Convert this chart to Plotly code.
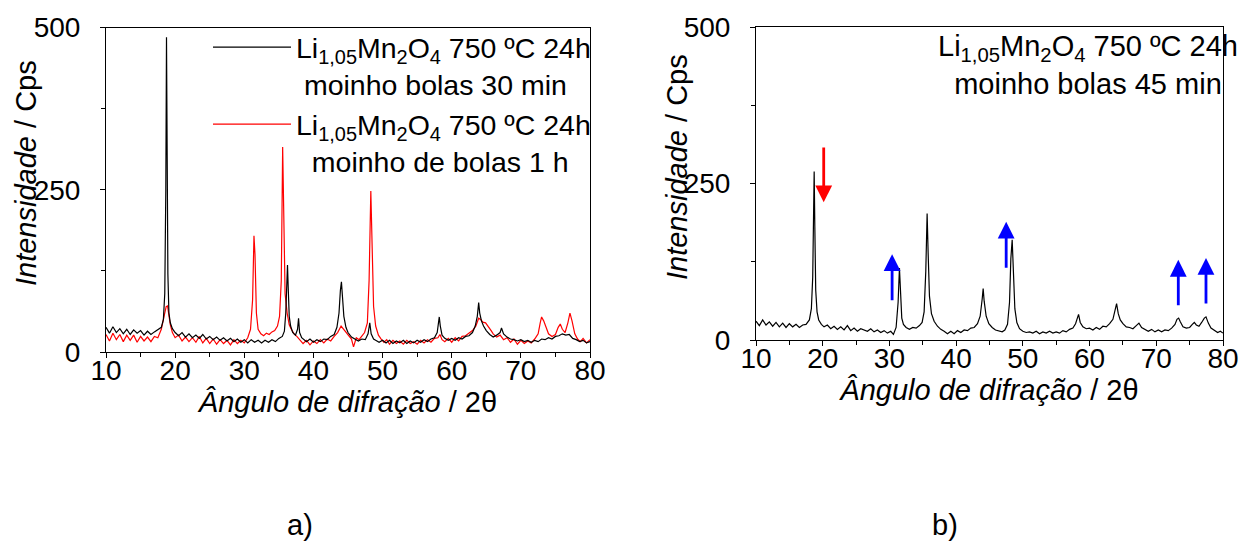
import plotly.graph_objects as go

# ---------------- data ----------------
# a) Li1,05Mn2O4 750 ºC 24h, moinho bolas 30 min (black)
x_30min = [10, 10.5, 11, 11.5, 12, 12.5, 13, 13.5, 14, 14.5, 15, 15.5, 16, 16.5, 17, 17.5, 18, 18.3, 18.5, 18.65,
           18.75, 18.85, 18.95, 19.1, 19.3, 19.6, 20, 20.5, 21, 21.5, 22, 22.5, 23, 23.5, 24, 24.5, 25, 25.5, 26,
           26.5, 27, 27.5, 28, 28.5, 29, 29.5, 30, 30.5, 31, 31.5, 32, 32.5, 33, 33.5, 34, 34.5, 35, 35.5, 35.8,
           36.0, 36.15, 36.25, 36.35, 36.5, 36.7, 37.0, 37.4, 37.7, 37.85, 38.0, 38.3, 38.7, 39, 39.5, 40, 40.5,
           41, 41.5, 42, 42.5, 43, 43.4, 43.7, 43.9, 44.05, 44.2, 44.4, 44.7, 45, 45.5, 46, 46.5, 47, 47.5, 47.9,
           48.15, 48.35, 48.7, 49, 49.5, 50, 50.5, 51, 51.5, 52, 52.5, 53, 53.5, 54, 54.5, 55, 55.5, 56, 56.5, 57,
           57.5, 57.9, 58.2, 58.35, 58.6, 59, 59.5, 60, 60.5, 61, 61.5, 62, 62.5, 63, 63.4, 63.7, 63.9, 64.05, 64.3,
           64.6, 65, 65.5, 66, 66.5, 67, 67.2, 67.5, 68, 68.5, 69, 69.5, 70, 70.5, 71, 71.5, 72, 72.5, 73, 73.5,
           74, 74.5, 75, 75.5, 76, 76.5, 77, 77.5, 78, 78.5, 79, 79.5, 80]
y_30min = [38, 29, 39, 30, 36, 28, 35, 27, 34, 29, 33, 26, 32, 27, 31, 34, 38, 50, 90, 250,
           485, 300, 120, 60, 45, 36, 30, 25, 30, 23, 28, 22, 26, 21, 27, 20, 24, 19, 23,
           18, 22, 17, 21, 16, 20, 15, 19, 14, 19, 15, 18, 14, 18, 15, 19, 16, 21, 24, 32,
           60, 110, 134, 100, 55, 40, 30, 26, 35, 52, 30, 22, 19, 16, 20, 15, 19,
           16, 20, 19, 24, 27, 38, 60, 95, 108, 85, 55, 38, 30, 23, 20, 17, 20, 19, 28,
           45, 28, 20, 18, 15, 18, 14, 18, 13, 17, 14, 18, 13, 17, 14, 18, 15, 19, 16, 20,
           22, 30, 54, 40, 26, 21, 18, 21, 18, 22, 20, 24, 25, 30, 40, 55, 76, 60, 48,
           40, 33, 27, 23, 26, 30, 37, 28, 23, 20, 19, 17, 19, 16, 18, 15, 18, 16, 20, 19,
           22, 20, 24, 25, 28, 26, 27, 21, 19, 16, 18, 14, 16]

# a) Li1,05Mn2O4 750 ºC 24h, moinho de bolas 1 h (red)
x_1h = [10, 10.5, 11, 11.5, 12, 12.5, 13, 13.5, 14, 14.5, 15, 15.5, 16, 16.5, 17, 17.5, 18, 18.3, 18.5, 18.7,
        18.9, 19.1, 19.3, 19.6, 20, 20.5, 21, 21.5, 22, 22.5, 23, 23.5, 24, 24.5, 25, 25.5, 26, 26.5, 27, 27.5,
        28, 28.5, 29, 29.5, 30, 30.5, 30.9, 31.2, 31.4, 31.55, 31.75, 32.0, 32.4, 32.8, 33.2, 33.6, 34, 34.4,
        34.8, 35.1, 35.35, 35.55, 35.7, 35.9, 36.2, 36.5, 36.8, 37.2, 37.6, 38, 38.5, 39, 39.5, 40, 40.5, 41,
        41.5, 42, 42.5, 43, 43.5, 44, 44.4, 44.8, 45.2, 45.5, 45.8, 46.2, 46.6, 47, 47.4, 47.8, 48.05, 48.3,
        48.45, 48.7, 49, 49.4, 49.8, 50.2, 50.6, 51, 51.5, 52, 52.5, 53, 53.5, 54, 54.5, 55, 55.5, 56, 56.5,
        57, 57.5, 58, 58.3, 58.6, 59, 59.5, 60, 60.5, 61, 61.5, 62, 62.5, 63, 63.5, 63.9, 64.2, 64.5, 64.9,
        65.3, 65.7, 66, 66.5, 67, 67.5, 68, 68.5, 69, 69.5, 70, 70.5, 71, 71.5, 72, 72.5, 72.8, 73.0, 73.3,
        73.6, 74, 74.5, 75, 75.4, 75.7, 76, 76.4, 76.8, 77.1, 77.4, 77.8, 78.2, 78.6, 79, 79.5, 80]
y_1h = [27, 17, 29, 19, 27, 16, 26, 18, 26, 15, 24, 17, 23, 16, 24, 22, 35, 50, 62, 70,
        71, 58, 42, 30, 22, 26, 17, 23, 16, 22, 15, 24, 14, 21, 13, 20, 12, 19, 13, 18,
        11, 19, 13, 18, 14, 22, 35, 80, 179, 150, 60, 35, 28, 25, 29, 27, 31, 33,
        40, 55, 110, 316, 200, 90, 60, 42, 35, 28, 24, 19, 13, 18, 11, 17, 13, 19,
        14, 20, 17, 24, 30, 40, 35, 30, 25, 20, 8, 22, 19, 25, 30, 45, 110, 248,
        170, 70, 40, 26, 20, 15, 19, 12, 18, 13, 17, 12, 18, 13, 16, 12, 18, 14, 19,
        15, 21, 22, 27, 19, 16, 21, 15, 22, 17, 24, 25, 29, 33, 40, 52, 50, 46, 45,
        38, 33, 28, 23, 26, 19, 22, 15, 20, 12, 18, 13, 17, 14, 20, 28, 45, 54, 48,
        38, 28, 24, 27, 38, 43, 35, 30, 45, 60, 48, 28, 20, 16, 21, 14, 19]

# b) Li1,05Mn2O4 750 ºC 24h, moinho bolas 45 min (black)
x_45min = [10, 10.5, 11, 11.5, 12, 12.5, 13, 13.5, 14, 14.5, 15, 15.5, 16, 16.5, 17, 17.5, 18, 18.3, 18.5,
           18.62, 18.72, 18.82, 18.95, 19.15, 19.4, 19.8, 20.2, 20.7, 21.2, 21.7, 22.2, 22.7, 23.2, 23.7, 24.2,
           24.7, 25.2, 25.7, 26.2, 26.7, 27.2, 27.7, 28.2, 28.7, 29.2, 29.7, 30.2, 30.6, 31.0, 31.3, 31.5, 31.65,
           31.85, 32.1, 32.5, 33, 33.5, 34, 34.5, 34.9, 35.2, 35.45, 35.65, 35.8, 36.0, 36.3, 36.7, 37.2, 37.7,
           38.2, 38.7, 39.2, 39.7, 40.2, 40.7, 41.2, 41.7, 42.2, 42.7, 43.2, 43.6, 43.9, 44.05, 44.2, 44.5, 44.9,
           45.4, 45.9, 46.4, 46.9, 47.3, 47.7, 48.0, 48.2, 48.4, 48.55, 48.8, 49.1, 49.5, 50, 50.5, 51, 51.5, 52,
           52.5, 53, 53.5, 54, 54.5, 55, 55.5, 56, 56.5, 57, 57.5, 57.9, 58.2, 58.35, 58.6, 59, 59.5, 60, 60.5,
           61, 61.5, 62, 62.5, 63, 63.5, 63.85, 64.05, 64.3, 64.6, 65, 65.5, 66, 66.5, 67, 67.4, 67.8, 68.3,
           68.8, 69.3, 69.8, 70.3, 70.8, 71.3, 71.8, 72.3, 72.8, 73.1, 73.35, 73.6, 74, 74.5, 75, 75.4, 75.7, 76,
           76.4, 76.8, 77.2, 77.45, 77.8, 78.2, 78.7, 79.2, 79.6, 80]
y_45min = [30, 23, 32, 24, 29, 22, 28, 21, 27, 20, 26, 21, 25, 20, 24, 25, 32, 50, 100,
           200, 269, 180, 80, 45, 32, 25, 21, 24, 18, 22, 17, 21, 16, 23, 15,
           19, 14, 18, 16, 14, 18, 13, 16, 12, 15, 11, 14, 9, 20, 60, 115, 80,
           35, 25, 20, 17, 20, 19, 23, 28, 45, 110, 202, 140, 70, 42, 30, 22, 17,
           14, 10, 14, 10, 15, 12, 16, 15, 19, 20, 26, 38, 65, 82, 62, 38, 26,
           20, 16, 15, 13, 16, 25, 60, 130, 160, 110, 50, 28, 18, 14, 12, 13, 11, 14,
           10, 13, 11, 14, 11, 13, 11, 15, 13, 17, 19, 26, 38, 41, 28, 21, 18, 19, 16,
           20, 17, 22, 21, 26, 33, 50, 58, 42, 32, 26, 21, 20, 18, 23, 27, 20, 17,
           14, 17, 13, 16, 13, 16, 15, 19, 25, 33, 35, 29, 21, 19, 20, 25, 28, 24,
           22, 28, 35, 37, 27, 19, 15, 12, 14, 11]

# arrows in panel b): x position, tail value, tip value
red_arrow_x = [20.15]
red_arrow_tail = [310]
red_arrow_tip = [220]
blue_arrow_x = [30.4, 47.5, 73.3, 77.45]
blue_arrow_tail = [61, 113, 53, 56]
blue_arrow_tip = [137, 189, 128, 131]

x_ticks = [10, 20, 30, 40, 50, 60, 70, 80]
y_ticks = [0, 250, 500]

legend_30 = "Li<sub>1,05</sub>Mn<sub>2</sub>O<sub>4</sub> 750 ºC 24h<br>&nbsp;moinho bolas 30 min"
legend_1h = "Li<sub>1,05</sub>Mn<sub>2</sub>O<sub>4</sub> 750 ºC 24h<br>&nbsp;&nbsp;moinho de bolas 1 h"
label_45 = "Li<sub>1,05</sub>Mn<sub>2</sub>O<sub>4</sub> 750 ºC 24h<br>moinho bolas 45 min"
x_title = "<i>Ângulo de difração</i> / 2θ"
y_title = "<i>Intensidade</i> / Cps"

# ---------------- figure ----------------
FONT = "Liberation Sans, Arial, sans-serif"
FS = 29
FT = 28
FL = 28.5

fig = go.Figure()
fig.add_trace(go.Scatter(x=x_1h, y=y_1h, mode="lines", name=legend_1h, legendrank=2,
                         line=dict(color="#ff0000", width=1.2), xaxis="x", yaxis="y"))
fig.add_trace(go.Scatter(x=x_30min, y=y_30min, mode="lines", name=legend_30, legendrank=1,
                         line=dict(color="black", width=1.2), xaxis="x", yaxis="y"))
fig.add_trace(go.Scatter(x=x_45min, y=y_45min, mode="lines", showlegend=False,
                         line=dict(color="black", width=1.2), xaxis="x2", yaxis="y2"))

W, H = 1242, 543
axis_common = dict(showline=True, mirror=True, linecolor="black", linewidth=1,
                   ticks="outside", ticklen=5, tickcolor="black", tickwidth=1,
                   showgrid=False, zeroline=False, automargin=False,
                   tickfont=dict(family=FONT, size=FT, color="black"))

xa = dict(axis_common, range=[10, 80], tickvals=x_ticks, ticklabelstandoff=-12,
          minor=dict(dtick=5, ticks="outside", ticklen=4, tickcolor="black"),
          title=dict(text=x_title, font=dict(family=FONT, size=FS, color="black"), standoff=0))
ya = dict(axis_common, range=[0, 500], tickvals=y_ticks, ticklabelstandoff=14,
          minor=dict(dtick=125, ticks="outside", ticklen=4, tickcolor="black"))

fig.update_layout(
    width=W, height=H,
    margin=dict(l=0, r=0, t=0, b=0, autoexpand=False),
    paper_bgcolor="white", plot_bgcolor="white",
    font=dict(family=FONT, size=FS, color="black"),
    xaxis=dict(xa, domain=[106 / W, 590 / W], anchor="y"),
    yaxis=dict(ya, domain=[1 - 352 / H, 1 - 27.5 / H], anchor="x"),
    xaxis2=dict(xa, domain=[756 / W, 1223 / W], anchor="y2"),
    yaxis2=dict(ya, domain=[1 - 340 / H, 1 - 27 / H], anchor="x2"),
    showlegend=True,
    legend=dict(x=596 / W, xanchor="right", y=1 - 22 / H, yanchor="top",
                bgcolor="rgba(0,0,0,0)", borderwidth=0, valign="top",
                itemwidth=78, tracegroupgap=0,
                font=dict(family=FONT, size=FL, color="black"),
                traceorder="normal"),
)

annotations = [
    dict(text=y_title, xref="paper", yref="paper", x=26 / W, y=1 - 173 / H, textangle=-90,
         xanchor="center", yanchor="middle", showarrow=False,
         font=dict(family=FONT, size=FS, color="black")),
    dict(text=y_title, xref="paper", yref="paper", x=677 / W, y=1 - 167 / H, textangle=-90,
         xanchor="center", yanchor="middle", showarrow=False,
         font=dict(family=FONT, size=FS, color="black")),
    dict(text=label_45, xref="paper", yref="paper", x=1088 / W, y=1 - 28 / H,
         xanchor="center", yanchor="top", align="center", showarrow=False,
         font=dict(family=FONT, size=FS, color="black")),
    dict(text="a)", xref="paper", yref="paper", x=300 / W, y=1 - 525 / H,
         xanchor="center", yanchor="middle", showarrow=False,
         font=dict(family=FONT, size=FS, color="black")),
    dict(text="b)", xref="paper", yref="paper", x=945 / W, y=1 - 525 / H,
         xanchor="center", yanchor="middle", showarrow=False,
         font=dict(family=FONT, size=FS, color="black")),
]
for xv, t0, t1 in zip(red_arrow_x, red_arrow_tail, red_arrow_tip):
    annotations.append(dict(text="", x=xv, y=t1, ax=xv, ay=t0, xref="x2", yref="y2",
                            axref="x2", ayref="y2", showarrow=True, arrowhead=2,
                            arrowsize=1.2, arrowwidth=2.8, arrowcolor="#ff0000"))
for xv, t0, t1 in zip(blue_arrow_x, blue_arrow_tail, blue_arrow_tip):
    annotations.append(dict(text="", x=xv, y=t1, ax=xv, ay=t0, xref="x2", yref="y2",
                            axref="x2", ayref="y2", showarrow=True, arrowhead=2,
                            arrowsize=1.2, arrowwidth=2.8, arrowcolor="#0000ff"))
fig.update_layout(annotations=annotations)

fig.write_html("out.html")
